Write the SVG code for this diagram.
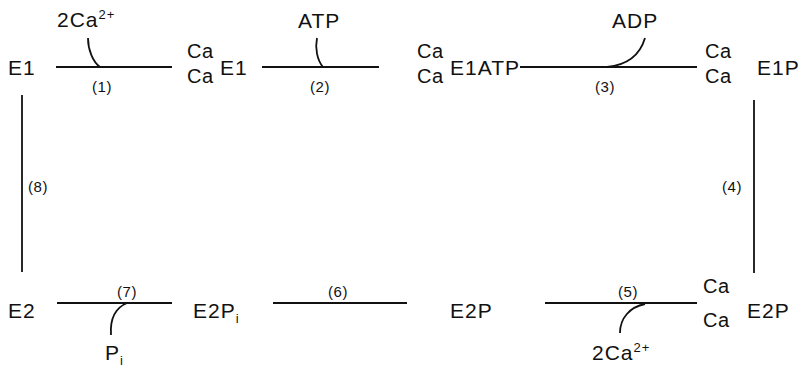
<svg xmlns="http://www.w3.org/2000/svg" width="808" height="371" viewBox="0 0 808 371">
<style>
text{font-family:"Liberation Sans",Arial,sans-serif;fill:#111}
.m{font-size:21px;letter-spacing:1px}
.c{font-size:20px;letter-spacing:0.5px}
.n{font-size:15px;text-anchor:middle;letter-spacing:0.5px}
.s{font-size:13px;letter-spacing:1px}
.ln{stroke:#111;stroke-width:1.8;fill:none}
</style>
<rect width="808" height="371" fill="#fff"/>
<g id="connectors">
<path class="ln" d="M56,67H172"/>
<path class="ln" d="M88,38C88,50 93,62 100,67"/>
<path class="ln" d="M262,67H379"/>
<path class="ln" d="M317,38C315,48 317,60 323,67"/>
<path class="ln" d="M520,67H697"/>
<path class="ln" d="M645,38C640,55 627,65 607,67"/>
<path class="ln" d="M22,95V272"/>
<path class="ln" d="M754,100V273"/>
<path class="ln" d="M57,303H172"/>
<path class="ln" d="M127,303C115,308 110,320 111,335"/>
<path class="ln" d="M273,303H407"/>
<path class="ln" d="M545,303H697"/>
<path class="ln" d="M645,304C630,307 620,318 620,333"/>
<text class="n" x="102" y="92">(1)</text>
<text class="n" x="320" y="92">(2)</text>
<text class="n" x="605" y="92">(3)</text>
<text class="n" x="732" y="192">(4)</text>
<text class="n" x="628" y="297">(5)</text>
<text class="n" x="338" y="297">(6)</text>
<text class="n" x="127" y="297">(7)</text>
<text class="n" x="38" y="192">(8)</text>
<text class="m" x="57" y="27">2Ca<tspan class="s" dy="-8">2+</tspan></text>
<text class="m" x="298" y="28">ATP</text>
<text class="m" x="612" y="28">ADP</text>
<text class="m" x="105" y="360">P<tspan class="s" dy="5">i</tspan></text>
<text class="m" x="592" y="360">2Ca<tspan class="s" dy="-8">2+</tspan></text>
</g>
<g id="E1"><text class="m" x="8" y="75">E1</text></g>
<g id="CaE1"><text class="c" x="187" y="58">Ca</text><text class="c" x="187" y="83">Ca</text><text class="m" x="220" y="75">E1</text></g>
<g id="CaE1ATP"><text class="c" x="417" y="58">Ca</text><text class="c" x="417" y="83">Ca</text><text class="m" x="450" y="75">E1ATP</text></g>
<g id="CaE1P"><text class="c" x="705" y="58">Ca</text><text class="c" x="705" y="83">Ca</text><text class="m" x="757" y="75">E1P</text></g>
<g id="CaE2P"><text class="c" x="703" y="293">Ca</text><text class="c" x="703" y="327">Ca</text><text class="m" x="747" y="318">E2P</text></g>
<g id="E2P"><text class="m" x="450" y="318">E2P</text></g>
<g id="E2Pi"><text class="m" x="193" y="318">E2P<tspan class="s" dy="5">i</tspan></text></g>
<g id="E2"><text class="m" x="8" y="318">E2</text></g>
</svg>
